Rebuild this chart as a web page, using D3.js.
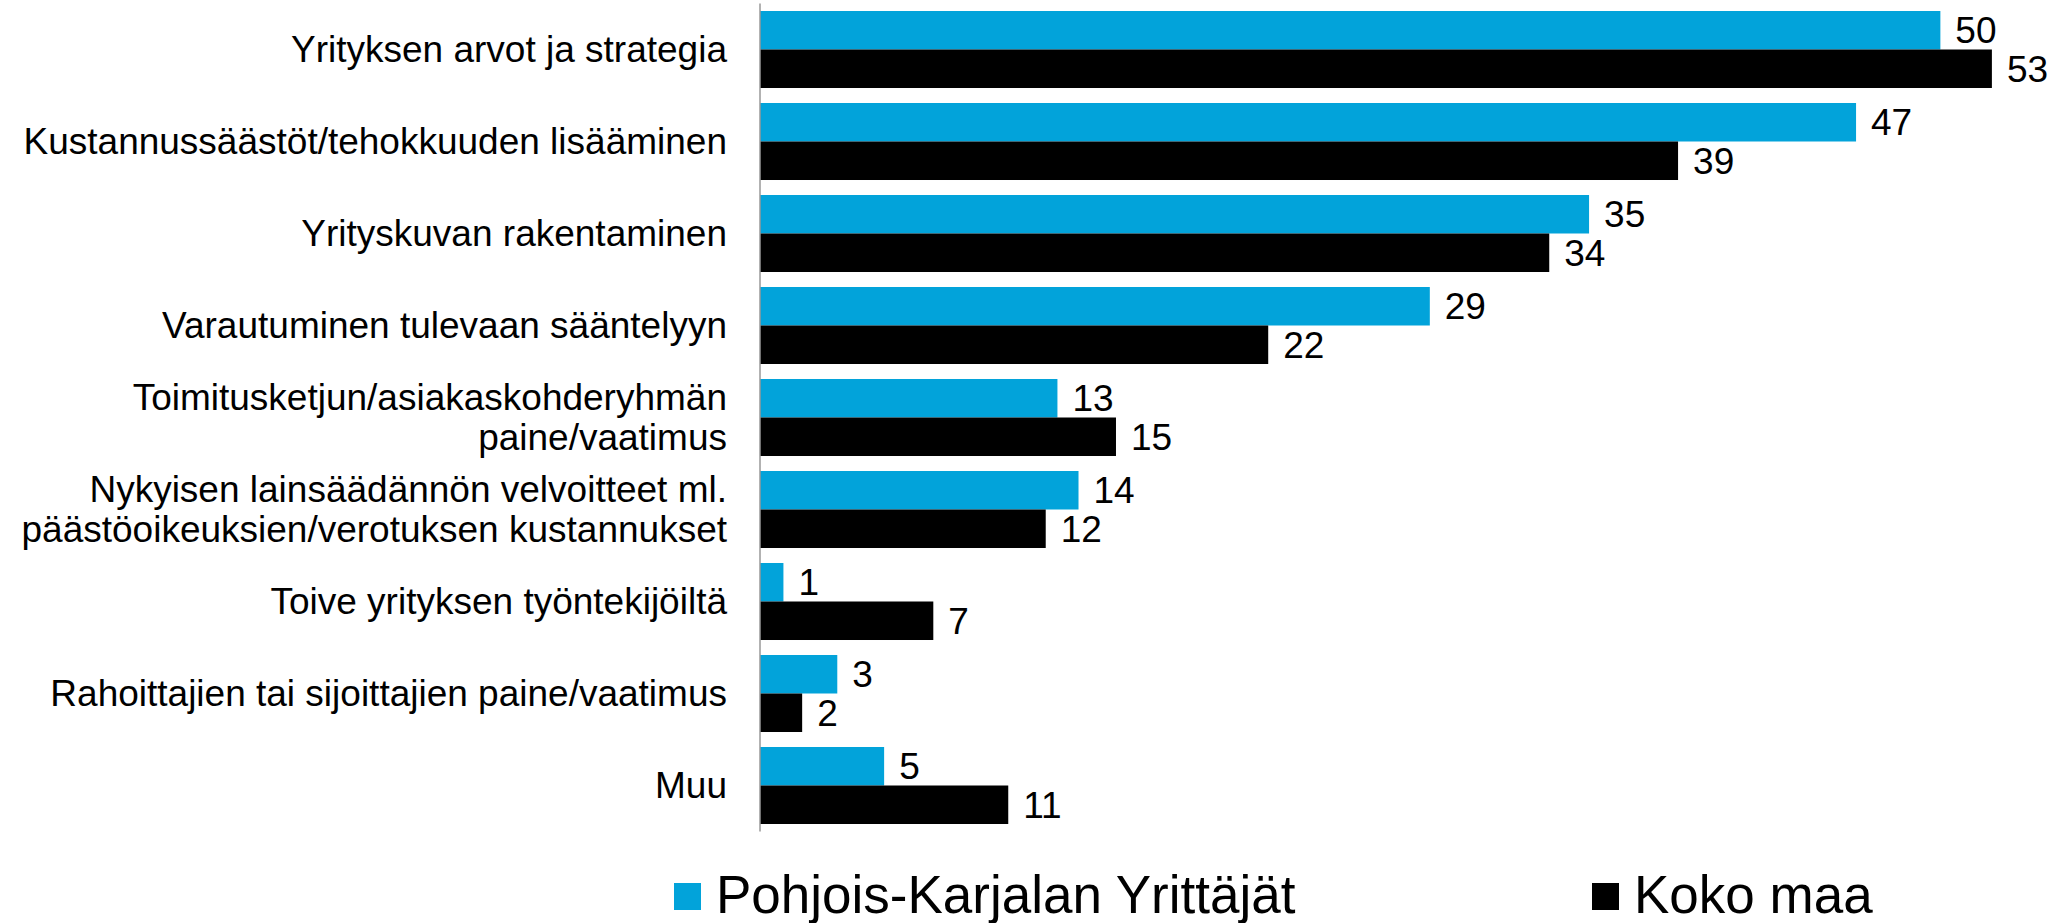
<!DOCTYPE html>
<html>
<head>
<meta charset="utf-8">
<script src="https://cdn.jsdelivr.net/npm/d3@7"></script>
<style>
  html, body { margin: 0; padding: 0; background: #fff; }
  svg { display: block; font-family: "Liberation Sans", Arial, sans-serif; }
</style>
</head>
<body>
<div id="chart"></div>
<script>
// categories, top to bottom ("\n" = line break in the label)
const categories = [
    "Yrityksen arvot ja strategia",
    "Kustannussäästöt/tehokkuuden lisääminen",
    "Yrityskuvan rakentaminen",
    "Varautuminen tulevaan sääntelyyn",
    "Toimitusketjun/asiakaskohderyhmän\npaine/vaatimus",
    "Nykyisen lainsäädännön velvoitteet ml.\npäästöoikeuksien/verotuksen kustannukset",
    "Toive yrityksen työntekijöiltä",
    "Rahoittajien tai sijoittajien paine/vaatimus",
    "Muu"
];
const seriesNames = ["Pohjois-Karjalan Yrittäjät", "Koko maa"];
// percentages (labels are rounded)
const pohjoisKarjala = [50.4, 46.8, 35.4, 28.6, 12.7, 13.6, 1.0, 3.3, 5.3];
const kokoMaa = [52.6, 39.2, 33.7, 21.7, 15.2, 12.2, 7.4, 1.8, 10.6];
const seriesColors = ["#02a3da", "#000000"];

const width = 2065, height = 923;
const margin = {left: 760, top: 3.5, bottom: 91.5};
const fontSize = 37;

const svg = d3.select("#chart").append("svg")
    .attr("width", width).attr("height", height);

const x = d3.scaleLinear()
    .domain([0, 55])
    .range([margin.left, margin.left + 55 * 23.42]);

const y = d3.scaleBand()
    .domain(categories)
    .range([margin.top, height - margin.bottom])
    .paddingInner(0.163)
    .paddingOuter(0.0815);

const ySub = d3.scaleBand()
    .domain(seriesNames)
    .range([0, y.bandwidth()]);

const rows = categories.map((c, i) => ({
    cat: c,
    vals: [pohjoisKarjala[i], kokoMaa[i]]
}));

// bars
const group = svg.append("g").selectAll("g.row")
    .data(rows)
    .join("g").attr("class", "row")
    .attr("transform", d => `translate(0,${y(d.cat)})`);

const cell = group.selectAll("g.bar")
    .data(d => d.vals.map((v, k) => ({v, k})))
    .join("g").attr("class", "bar");

cell.append("rect")
    .attr("x", x(0))
    .attr("y", d => ySub(seriesNames[d.k]))
    .attr("width", d => x(d.v) - x(0))
    .attr("height", ySub.bandwidth())
    .attr("fill", d => seriesColors[d.k]);

cell.append("text")
    .attr("x", d => x(d.v) + 15)
    .attr("y", d => ySub(seriesNames[d.k]) + ySub.bandwidth() / 2)
    .attr("dy", "0.35em")
    .style("font-size", fontSize + "px")
    .attr("fill", "#000")
    .text(d => Math.round(d.v));

// axis line
svg.append("line")
    .attr("x1", x(0)).attr("x2", x(0))
    .attr("y1", margin.top).attr("y2", height - margin.bottom)
    .attr("stroke", "#999").attr("stroke-width", 1.5);

// category labels
const lineH = 40;
svg.append("g").selectAll("text.cat")
    .data(categories)
    .join("text").attr("class", "cat")
    .attr("text-anchor", "end")
    .style("font-size", fontSize + "px")
    .attr("fill", "#000")
    .each(function (c) {
        const lines = c.split("\n");
        const cy = y(c) + y.bandwidth() / 2;
        d3.select(this).selectAll("tspan")
            .data(lines)
            .join("tspan")
            .attr("x", x(0) - 33)
            .attr("y", (l, i) => cy + (i - (lines.length - 1) / 2) * lineH)
            .attr("dy", "0.35em")
            .text(l => l);
    });

// legend
const legendX = [674, 1592];
const legend = svg.append("g").selectAll("g.leg")
    .data(seriesNames)
    .join("g").attr("class", "leg")
    .attr("transform", (d, i) => `translate(${legendX[i]},883)`);
legend.append("rect")
    .attr("width", 27).attr("height", 27)
    .attr("fill", (d, i) => seriesColors[i]);
legend.append("text")
    .attr("x", 42).attr("y", 30)
    .style("font-size", "53px")
    .attr("fill", "#000")
    .text(d => d);
</script>
</body>
</html>
